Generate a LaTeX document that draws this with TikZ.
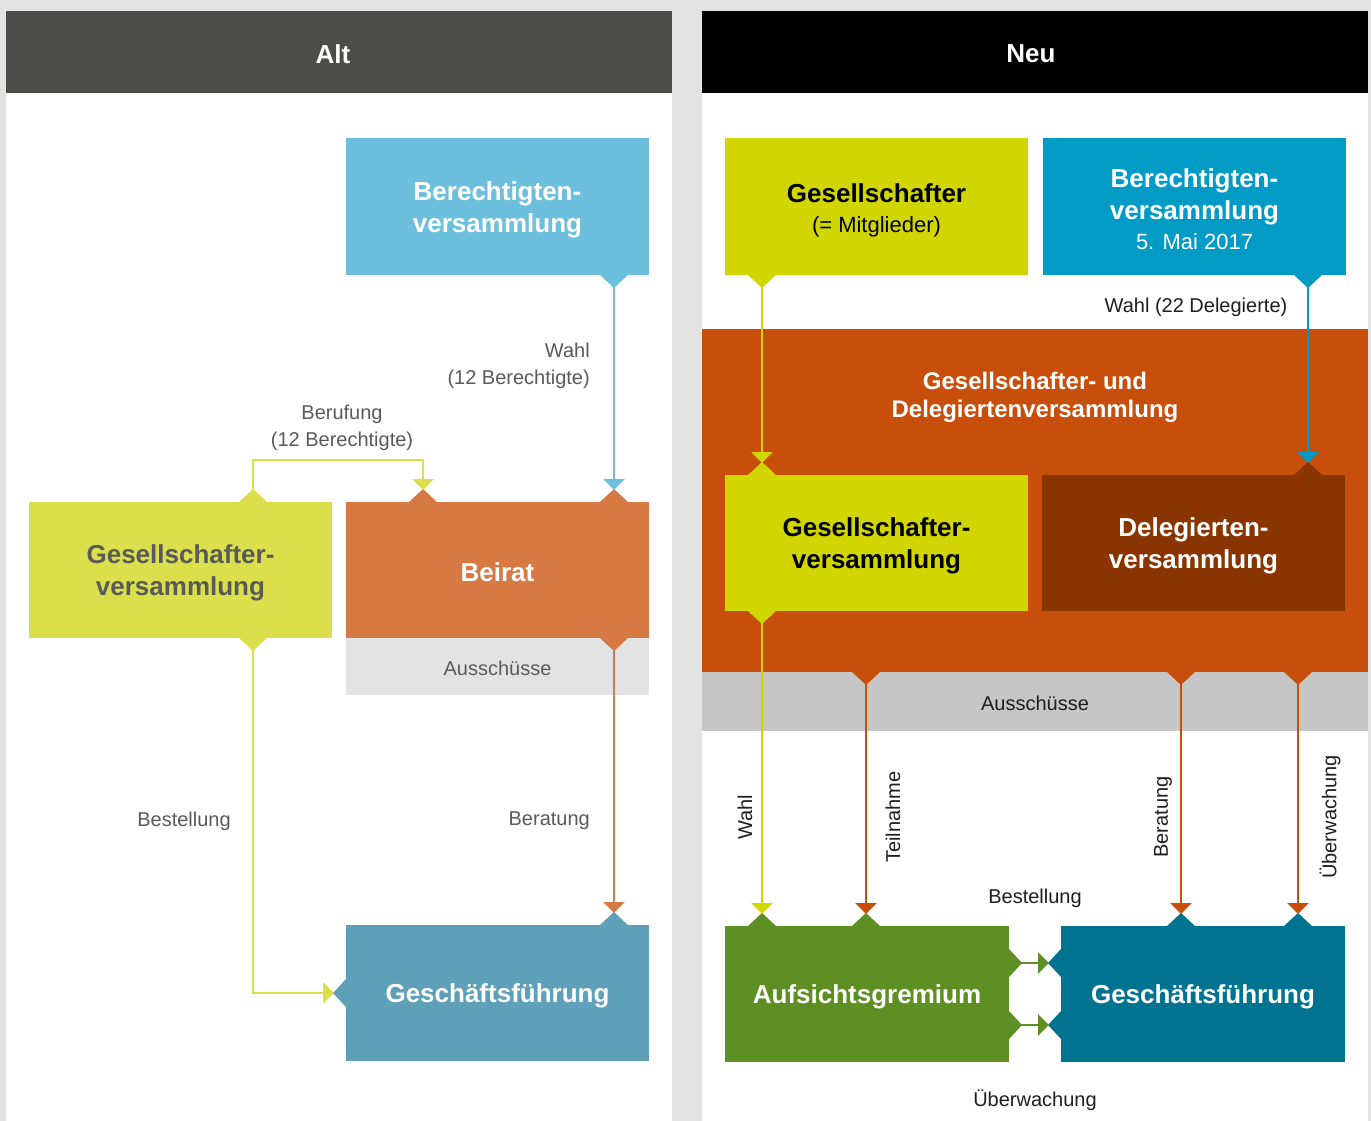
\documentclass[tikz,border=0pt]{standalone}
\usepackage{fontspec}
\setmainfont{Liberation Sans}
\usetikzlibrary{arrows.meta}
\definecolor{bggray}{HTML}{E3E3E3}
\definecolor{hdrleft}{HTML}{4C4C4A}
\definecolor{lblue}{HTML}{6DC0DD}
\definecolor{lyel}{HTML}{DBDF4B}
\definecolor{lorange}{HTML}{D77942}
\definecolor{lteal}{HTML}{5EA0B7}
\definecolor{lausgray}{HTML}{E3E3E3}
\definecolor{ltext}{HTML}{5A5A5A}
\definecolor{rgelb}{HTML}{D1D600}
\definecolor{rblue}{HTML}{029BC5}
\definecolor{bigor}{HTML}{C84E0C}
\definecolor{rausgray}{HTML}{C6C6C6}
\definecolor{rdelc}{HTML}{8A3500}
\definecolor{aggreen}{HTML}{5E8F22}
\definecolor{rteal}{HTML}{007391}
\definecolor{rtext}{HTML}{1E1E1E}
\newcommand\boxfont{\fontsize{26}{32}\selectfont\bfseries}
\newcommand\subfont{\fontsize{22}{30}\selectfont\mdseries}
\newcommand\lblfont{\fontsize{20}{27}\selectfont}
\newcommand\notchDn[2]{\fill[#2] (#1) ++(-14,0) -- ++(28,0) -- ++(-14,13) -- cycle;}
\newcommand\notchUp[2]{\fill[#2] (#1) ++(-14,0) -- ++(28,0) -- ++(-14,-13) -- cycle;}
\newcommand\notchRt[2]{\fill[#2] (#1) ++(0,-14) -- ++(0,28) -- ++(13,-14) -- cycle;}
\newcommand\notchLt[2]{\fill[#2] (#1) ++(0,-14) -- ++(0,28) -- ++(-13,-14) -- cycle;}
\begin{document}
\begin{tikzpicture}[x=1pt,y=-1pt,
  box/.style={rectangle, inner sep=0pt, outer sep=0pt},
  btxt/.style={inner sep=0pt, align=center, font=\boxfont, text=white},
  hdr/.style={rectangle, inner sep=0pt, outer sep=0pt, minimum width=666, minimum height=82},
  htxt/.style={inner sep=0pt, font=\fontsize{26}{32}\selectfont\bfseries, text=white},
  conn/.style={line width=2.2pt, shorten >=12pt, -{Triangle[width=21pt,length=11pt]}},
  lbl/.style={font=\lblfont, align=center, inner sep=0pt, text=ltext},
  rlbl/.style={font=\lblfont, align=center, inner sep=0pt, text=rtext}]
\useasboundingbox (0,0) rectangle (1371,1121);
\fill[bggray] (0,0) rectangle (1371,1121);
% panels
\fill[white] (6,11) rectangle (672,1121);
\fill[white] (702,11) rectangle (1368,1121);
\node[hdr, fill=hdrleft] (hleft) at (339,52) {};
\node[htxt] (hleft-t) at (333,54) {Alt};
\node[hdr, fill=black] (hright) at (1035,52) {};
\node[htxt] (hright-t) at (1031,54) {Neu};

% ---------- left boxes
\node[box, fill=lblue, minimum width=303, minimum height=137] (lberech) at (497.5,206.5) {};
\node[btxt] (lberech-t) at (497.5,209.5) {Berechtigten-\\versammlung};
\node[box, fill=lyel, minimum width=303, minimum height=136] (lgv) at (180.5,570) {};
\node[btxt, text=ltext] (lgv-t) at (180.5,573) {Gesellschafter-\\versammlung};
\node[box, fill=lorange, minimum width=303, minimum height=136] (beirat) at (497.5,570) {};
\node[btxt] (beirat-t) at (497.5,572) {Beirat};
\node[box, fill=lausgray, minimum width=303, minimum height=57] (laus) at (497.5,666.5) {};
\node[lbl] (laus-t) at (497.5,668.5) {Ausschüsse};
\node[box, fill=lteal, minimum width=303, minimum height=136] (lgf) at (497.5,993) {};
\node[btxt] (lgf-t) at (497.5,996) {Geschäftsführung};

% ---------- right boxes
\node[box, fill=rgelb, minimum width=303, minimum height=137] (rges) at (876.5,206.5) {};
\node[btxt, text=black] (rges-t) at (876.5,210) {Gesellschafter\\[-2pt]{\subfont(= Mitglieder)}};
\node[box, fill=rblue, minimum width=303, minimum height=137] (rberech) at (1194.5,206.5) {};
\node[btxt] (rberech-t) at (1194.5,209.5) {Berechtigten-\\versammlung\\[-2pt]{\subfont 5. Mai 2017}};
\node[box, fill=bigor, minimum width=666, minimum height=343] (big) at (1035,500.5) {};
\node[btxt, font=\fontsize{24}{28}\selectfont\bfseries] (big-t) at (1035,397) {Gesellschafter- und\\Delegiertenversammlung};
\node[box, fill=rausgray, minimum width=666, minimum height=59] (raus) at (1035,701.5) {};
\node[rlbl] (raus-t) at (1035,703.5) {Ausschüsse};
\node[box, fill=rgelb, minimum width=303, minimum height=136] (rgv) at (876.5,543) {};
\node[btxt, text=black] (rgv-t) at (876.5,546) {Gesellschafter-\\versammlung};
\node[box, fill=rdelc, minimum width=303, minimum height=136] (rdel) at (1193.5,543) {};
\node[btxt] (rdel-t) at (1193.5,546) {Delegierten-\\versammlung};
\node[box, fill=aggreen, minimum width=284, minimum height=136] (ag) at (867,994) {};
\node[btxt] (ag-t) at (867,997) {Aufsichtsgremium};
\node[box, fill=rteal, minimum width=284, minimum height=136] (rgf) at (1203,994) {};
\node[btxt] (rgf-t) at (1203,997) {Geschäftsführung};

% ---------- notches left
\notchDn{614,0 |- lberech.south}{lblue}
\notchUp{614,0 |- beirat.north}{lorange}
\notchUp{423,0 |- beirat.north}{lorange}
\notchUp{253,0 |- lgv.north}{lyel}
\notchDn{253,0 |- lgv.south}{lyel}
\notchDn{614,0 |- beirat.south}{lorange}
\notchUp{614,0 |- lgf.north}{lteal}
\notchLt{lgf.west}{lteal}

% ---------- notches right
\notchDn{762,0 |- rges.south}{rgelb}
\notchDn{1308,0 |- rberech.south}{rblue}
\notchUp{762,0 |- rgv.north}{rgelb}
\notchUp{1308,0 |- rdel.north}{rdelc}
\notchDn{762,0 |- rgv.south}{rgelb}
\notchDn{866,0 |- big.south}{bigor}
\notchDn{1181,0 |- big.south}{bigor}
\notchDn{1298,0 |- big.south}{bigor}
\notchUp{762,0 |- ag.north}{aggreen}
\notchUp{866,0 |- ag.north}{aggreen}
\notchUp{1181,0 |- rgf.north}{rteal}
\notchUp{1298,0 |- rgf.north}{rteal}
\notchRt{ag.east |- 0,963}{aggreen}
\notchRt{ag.east |- 0,1025}{aggreen}
\notchLt{rgf.west |- 0,963}{rteal}
\notchLt{rgf.west |- 0,1025}{rteal}

% ---------- connectors left
\draw[conn, lblue] (614,0 |- lberech.south) -- (614,0 |- beirat.north);
\draw[conn, lyel] (253,0 |- lgv.north) -- (253,460) -- (423,460) -- (423,0 |- beirat.north);
\draw[conn, lyel] (253,0 |- lgv.south) |- (lgf.west);
\draw[conn, lorange] (614,0 |- beirat.south) -- (614,0 |- lgf.north);

% ---------- connectors right
\draw[conn, rgelb] (762,0 |- rges.south) -- (762,0 |- rgv.north);
\draw[conn, rblue] (1308,0 |- rberech.south) -- (1308,0 |- rdel.north);
\draw[conn, rgelb] (762,0 |- rgv.south) -- (762,0 |- ag.north);
\draw[conn, bigor] (866,0 |- big.south) -- (866,0 |- ag.north);
\draw[conn, bigor] (1181,0 |- big.south) -- (1181,0 |- rgf.north);
\draw[conn, bigor] (1298,0 |- big.south) -- (1298,0 |- rgf.north);
\draw[conn, aggreen] (ag.east |- 0,963) -- (rgf.west |- 0,963);
\draw[conn, aggreen] (ag.east |- 0,1025) -- (rgf.west |- 0,1025);

% ---------- labels left
\node[lbl, align=right, anchor=east] (lwahl) at (590,365.5) {Wahl\\(12 Berechtigte)};
\node[lbl] (lberuf) at (342,428) {Berufung\\(12 Berechtigte)};
\node[lbl] (lbest) at (184,821) {Bestellung};
\node[lbl, anchor=east] (lberat) at (590,821) {Beratung};

% ---------- labels right
\node[rlbl] (rwahl22) at (1196,307) {Wahl (22 Delegierte)};
\node[rlbl, rotate=90] (rwahl) at (745,817) {Wahl};
\node[rlbl, rotate=90] (rteil) at (893,817) {Teilnahme};
\node[rlbl, rotate=90] (rberat) at (1163,817) {Beratung};
\node[rlbl, rotate=90] (rueb) at (1330,817) {Überwachung};
\node[rlbl] (rbest) at (1035,898) {Bestellung};
\node[rlbl] (rueb2) at (1035,1100) {Überwachung};
\end{tikzpicture}
\end{document}
